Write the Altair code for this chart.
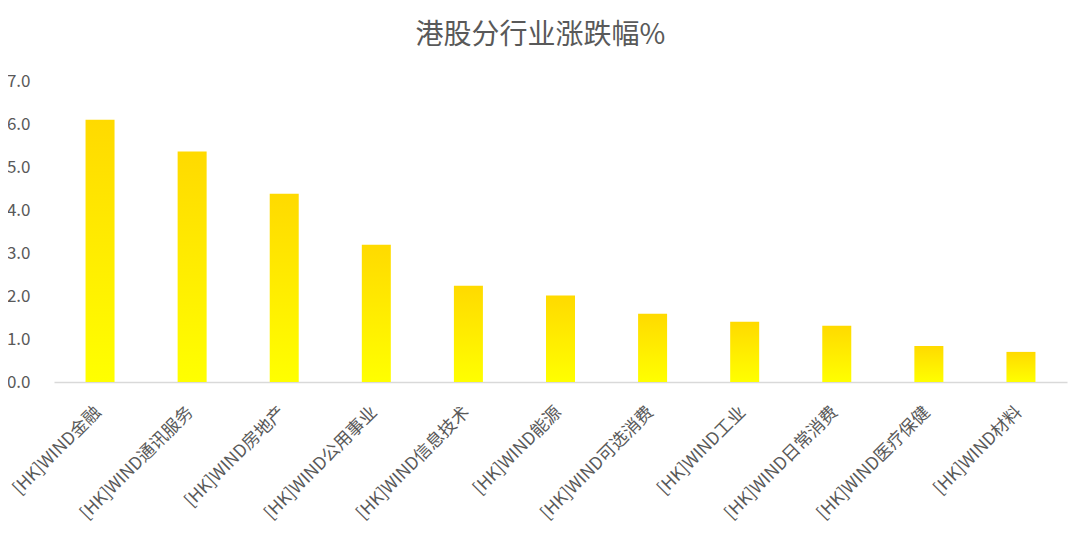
import altair as alt
import pandas as pd

categories = ["[HK]WIND金融", "[HK]WIND通讯服务", "[HK]WIND房地产", "[HK]WIND公用事业",
              "[HK]WIND信息技术", "[HK]WIND能源", "[HK]WIND可选消费", "[HK]WIND工业",
              "[HK]WIND日常消费", "[HK]WIND医疗保健", "[HK]WIND材料"]
values = [6.10, 5.36, 4.38, 3.19, 2.24, 2.01, 1.59, 1.40, 1.31, 0.84, 0.70]
y_ticks = [0, 1, 2, 3, 4, 5, 6, 7]

df = pd.DataFrame({"industry": categories, "change": values})

FONT = "Noto Sans CJK SC"
GRAY = "#595959"

bars = alt.Chart(df).mark_bar(
    size=29,
    color=alt.Gradient(
        gradient="linear",
        stops=[alt.GradientStop(color="#FFDA00", offset=0),
               alt.GradientStop(color="#FFFF00", offset=1)],
        x1=1, x2=1, y1=0, y2=1,
    ),
).encode(
    x=alt.X("industry:N", sort=categories,
            scale=alt.Scale(paddingInner=0, paddingOuter=0),
            axis=alt.Axis(title=None, labelAngle=-45, labelFont=FONT, labelFontSize=17.5,
                          labelColor=GRAY, labelPadding=21, labelOffset=-8, ticks=False,
                          domainColor="#D9D9D9", domainWidth=1.5, labelLimit=300)),
    y=alt.Y("change:Q", scale=alt.Scale(domain=[0, 7], nice=False),
            axis=alt.Axis(title=None, values=y_ticks, format=".1f", grid=False,
                          domain=False, ticks=False, labelFont=FONT, labelFontSize=17,
                          labelColor=GRAY, labelPadding=24)),
)

chart = bars.properties(
    width=1013,
    height=301,
    background="white",
    title=alt.TitleParams("港股分行业涨跌幅%", font=FONT, fontSize=28, fontWeight="normal",
                          color=GRAY, anchor="middle", offset=22, dx=-20),
    autosize=alt.AutoSizeParams(type="none"),
    padding={"left": 46, "top": 73, "right": 8, "bottom": 154},
).configure_view(stroke="transparent", strokeWidth=0)

chart.save("out.html", embed_options={"renderer": "svg", "actions": False})
